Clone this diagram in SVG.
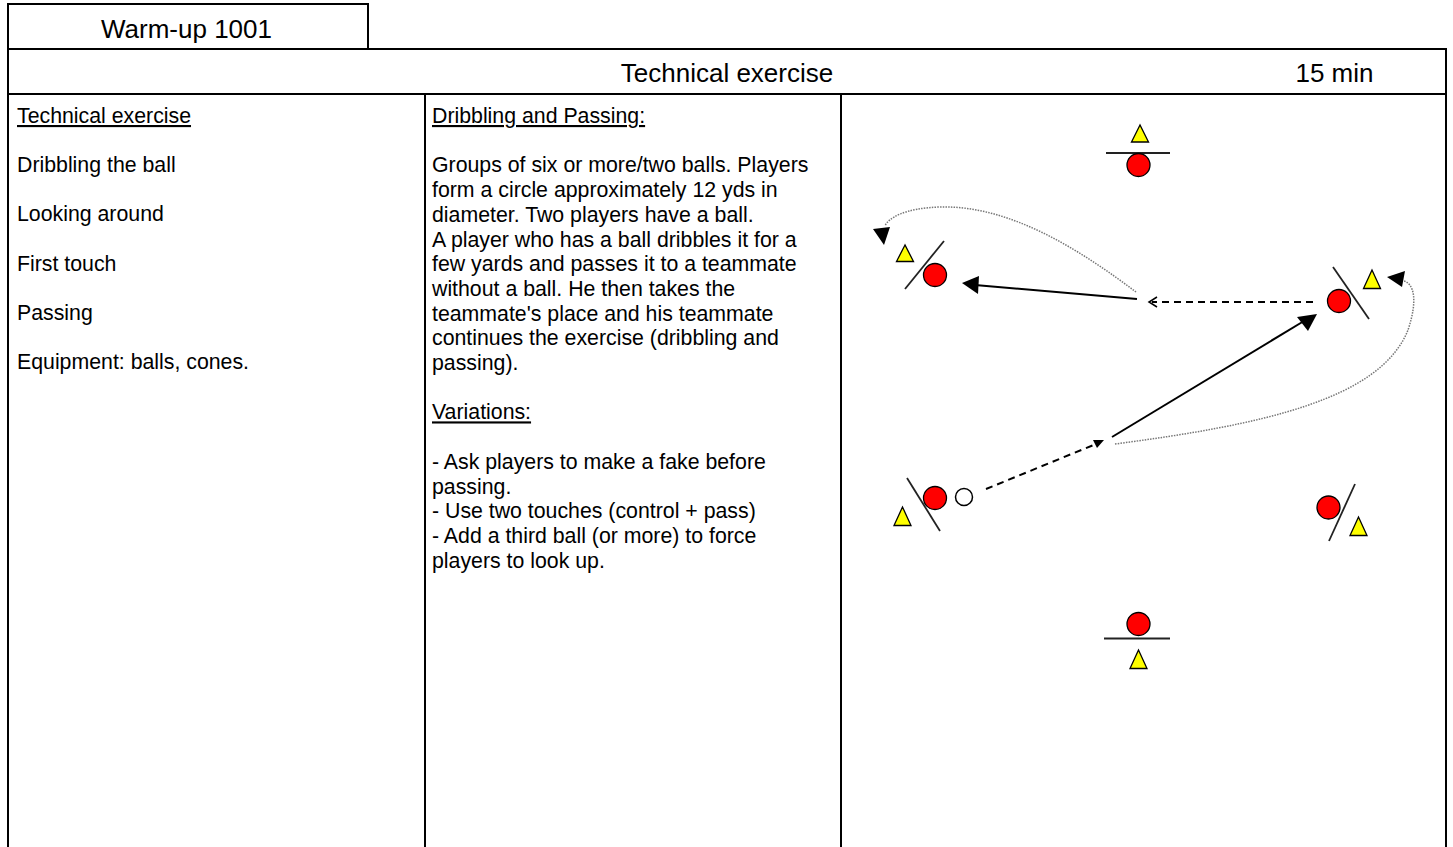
<svg xmlns="http://www.w3.org/2000/svg" width="1453" height="847" viewBox="0 0 1453 847">
  <style>
    .frame { stroke: #000; stroke-width: 2; fill: none; }
    .hdr { font-family: "Liberation Sans", Arial, sans-serif; font-size: 26px; fill: #000; text-anchor: middle; }
    .body { font-family: "Liberation Sans", Arial, sans-serif; font-size: 21.3px; fill: #000; }
    .u { text-decoration: underline; }
    .cone { fill: #ffff00; stroke: #000; stroke-width: 1.3; }
    .player { fill: #ff0000; stroke: #000; stroke-width: 1.3; }
    .ball { fill: #fff; stroke: #000; stroke-width: 1.5; }
    .bar { stroke: #222; stroke-width: 1.8; }
    .pass { stroke: #000; stroke-width: 2; fill: none; }
    .dribble { stroke: #000; stroke-width: 2; fill: none; stroke-dasharray: 7 5; }
    .run { stroke: #777; stroke-width: 1.5; fill: none; stroke-dasharray: 1.5 1.2; }
    .head { fill: #000; }
  </style>

  <rect width="1453" height="847" fill="#fff"/>

  <!-- table frame -->
  <g id="frame">
    <path class="frame" d="M8 847 V4 H368 V49"/>
    <path class="frame" d="M8 49 H1446 V847"/>
    <path class="frame" d="M8 94 H1446"/>
    <path class="frame" d="M425 94 V847"/>
    <path class="frame" d="M841 94 V847"/>
  </g>

  <!-- header texts -->
  <g id="header">
    <text class="hdr" x="186.5" y="38">Warm-up 1001</text>
    <text class="hdr" x="727" y="82">Technical exercise</text>
    <text class="hdr" x="1334.5" y="82">15 min</text>
  </g>

  <!-- objectives column -->
  <g id="objectives">
    <text class="body u" x="17" y="123">Technical exercise</text>
    <text class="body" x="17" y="172">Dribbling the ball</text>
    <text class="body" x="17" y="221">Looking around</text>
    <text class="body" x="17" y="271">First touch</text>
    <text class="body" x="17" y="320">Passing</text>
    <text class="body" x="17" y="369">Equipment: balls, cones.</text>
  </g>

  <!-- description column -->
  <g id="description">
    <text class="body u" x="432" y="123">Dribbling and Passing:</text>
    <text class="body" x="432" y="172.4">Groups of six or more/two balls. Players</text>
    <text class="body" x="432" y="197.1">form a circle approximately 12 yds in</text>
    <text class="body" x="432" y="221.8">diameter. Two players have a ball.</text>
    <text class="body" x="432" y="246.5">A player who has a ball dribbles it for a</text>
    <text class="body" x="432" y="271.2">few yards and passes it to a teammate</text>
    <text class="body" x="432" y="295.9">without a ball. He then takes the</text>
    <text class="body" x="432" y="320.6">teammate's place and his teammate</text>
    <text class="body" x="432" y="345.3">continues the exercise (dribbling and</text>
    <text class="body" x="432" y="370">passing).</text>
    <text class="body u" x="432" y="419.4">Variations:</text>
    <text class="body" x="432" y="468.8">- Ask players to make a fake before</text>
    <text class="body" x="432" y="493.5">passing.</text>
    <text class="body" x="432" y="518.2">- Use two touches (control + pass)</text>
    <text class="body" x="432" y="542.9">- Add a third ball (or more) to force</text>
    <text class="body" x="432" y="567.6">players to look up.</text>
  </g>

  <!-- movement lines -->
  <g id="connectors">
    <!-- runs (dotted) -->
    <path class="run" d="M1136 292 C1080 250 1010 205 940 207 C905 208 888 218 885 226"/>
    <polygon class="head" points="873,229 890,227 884,245"/>
    <path class="run" d="M1115 444 C1260 425 1380 400 1408 330 C1418 300 1414 284 1404 281"/>
    <polygon class="head" points="1387,277 1405,271 1402,287"/>
    <!-- passes (solid) -->
    <path class="pass" d="M1137 299 L975 285"/>
    <polygon class="head" points="962,283 979,276 978,294"/>
    <path class="pass" d="M1112 437 L1304 321"/>
    <polygon class="head" points="1317,314 1297,317 1308,331"/>
    <!-- dribbles (dashed) -->
    <path class="dribble" d="M1313 302 H1152"/>
    <path stroke="#000" stroke-width="1.5" fill="none" d="M1157 297 L1149 302 L1157 307"/>
    <path class="dribble" d="M986 489 L1096 444"/>
    <polygon class="head" points="1104,440 1093,440 1097,448"/>
  </g>

  <!-- players with cones -->
  <g id="p-top">
    <polygon class="cone" points="1140,125 1131.5,142 1148.5,142"/>
    <line class="bar" x1="1106" y1="153" x2="1170" y2="153"/>
    <circle class="player" cx="1138.5" cy="165" r="11.5"/>
  </g>
  <g id="p-left-upper">
    <polygon class="cone" points="905,245 896.5,261.5 913.5,261.5"/>
    <line class="bar" x1="944" y1="241" x2="905" y2="289"/>
    <circle class="player" cx="935" cy="275" r="11.5"/>
  </g>
  <g id="p-right-upper">
    <line class="bar" x1="1333" y1="267" x2="1369" y2="319"/>
    <circle class="player" cx="1339" cy="301" r="11.5"/>
    <polygon class="cone" points="1372,270 1363.5,288.5 1380.5,288.5"/>
  </g>
  <g id="p-left-lower">
    <polygon class="cone" points="902.5,507 894,525.5 911,525.5"/>
    <line class="bar" x1="907" y1="478" x2="940" y2="531"/>
    <circle class="player" cx="935" cy="498" r="11.5"/>
    <circle class="ball" cx="964" cy="497" r="8.5"/>
  </g>
  <g id="p-right-lower">
    <line class="bar" x1="1355" y1="484" x2="1329" y2="541"/>
    <circle class="player" cx="1328.5" cy="507.5" r="11.5"/>
    <polygon class="cone" points="1358.5,517 1350,535.5 1367,535.5"/>
  </g>
  <g id="p-bottom">
    <circle class="player" cx="1138.5" cy="624" r="11.5"/>
    <line class="bar" x1="1104" y1="638.5" x2="1170" y2="638.5"/>
    <polygon class="cone" points="1138.5,650 1130,668.5 1147,668.5"/>
  </g>
</svg>
